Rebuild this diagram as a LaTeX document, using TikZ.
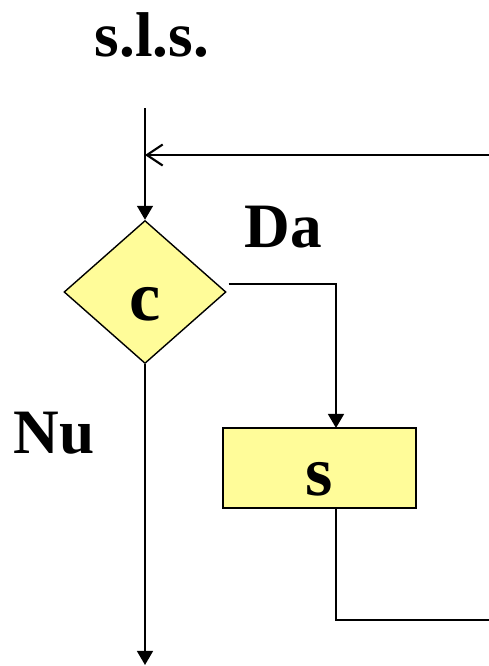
\documentclass[tikz,border=0pt]{standalone}
\usepackage{fontspec}
\setmainfont{Liberation Serif}
\usepackage{tikz}
\usetikzlibrary{shapes,arrows.meta,positioning,calc}
\definecolor{boxyellow}{RGB}{255,252,153}
\tikzstyle{decision} = [diamond, draw=black, line width=0.8pt, fill=boxyellow, minimum width=3.24cm, minimum height=2.86cm, inner sep=0pt, text height=33pt, text depth=0pt, font=\fontsize{40}{44}\selectfont\bfseries]
\tikzstyle{block} = [rectangle, draw=black, line width=1.6pt, fill=boxyellow, minimum width=3.86cm, minimum height=1.6cm, inner sep=0pt, text height=31pt, text depth=0pt, font=\fontsize{40}{44}\selectfont\bfseries]
\tikzstyle{label} = [inner sep=0pt, font=\fontsize{36}{40}\selectfont\bfseries]
\tikzstyle{arrow} = [line width=1.2pt, -{Triangle[length=8pt,width=9pt]}]
\tikzstyle{line} = [line width=1.2pt]

\begin{document}
\begin{tikzpicture}[x=0.02cm, y=-0.02cm]
                \useasboundingbox (0,0) rectangle (489,666);
                \node[label] (title) at (152, 35) {s.l.s.};
                \node[decision] (cond) at (145, 292) {c};
                \node[block] (stmt) at (319.5, 468) {s};
                \node[label] (da) at (283, 227) {Da};
                \node[label] (nu) at (54, 433) {Nu};
                
                \coordinate (top) at (145, 108);
                \coordinate (fbR) at (489, 155);
                \coordinate (fbJ) at (145, 155);
                \coordinate (sin) at (336, 428);
                \coordinate (sout) at (336, 508);
                \coordinate (loop1) at (336, 620);
                \coordinate (loop2) at (489, 620);
                \coordinate (bottom) at (145, 665);
                
                \draw[arrow] (top) -- (cond.north);
                \draw[line, -{Straight Barb[length=9pt,width=12pt]}] (fbR) -- (fbJ);
                \draw[arrow] ($(cond.east)+(2,-8)$) -| (sin);
                \draw[line] (sout) -- (loop1) -- (loop2);
                \draw[arrow] (cond.south) -- (bottom);
            \end{tikzpicture}
\end{document}
